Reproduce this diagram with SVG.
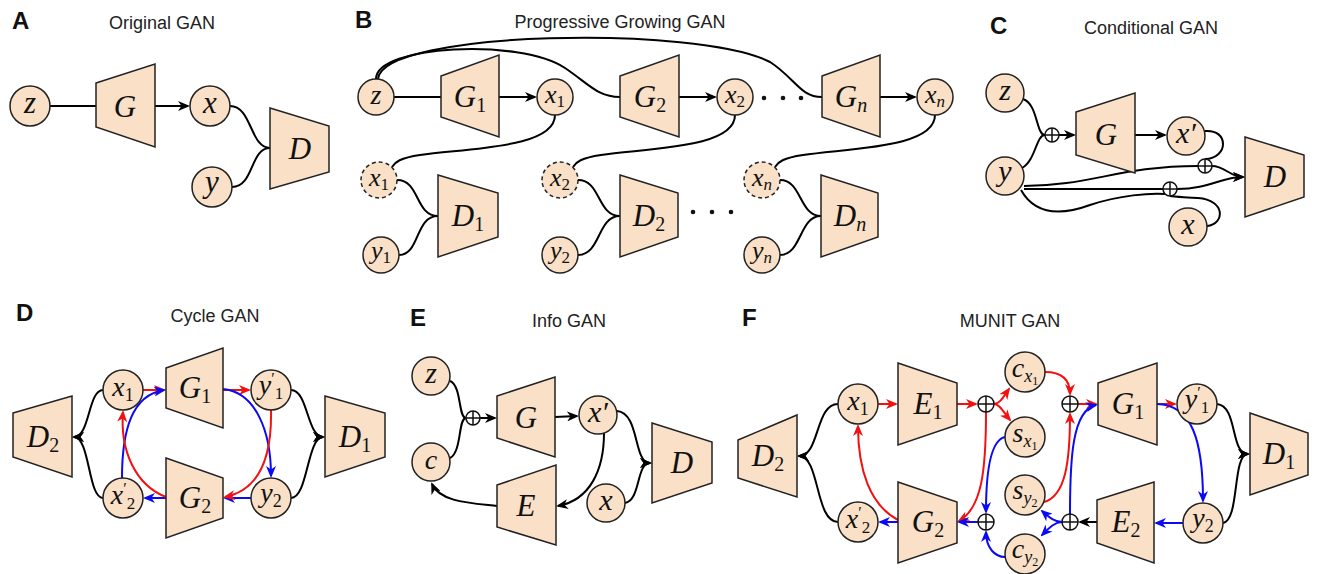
<svg xmlns="http://www.w3.org/2000/svg" width="1318" height="574" viewBox="0 0 1318 574">
<style>
.bg{fill:#fff}
.tr{fill:#f9e0c6;stroke:#222;stroke-width:1.5}
.nd{fill:#f9e0c6;stroke:#222;stroke-width:1.5}
.ds{stroke-dasharray:4 3}
.pl circle{fill:#fff;stroke:#111;stroke-width:1.5}
.pl path{stroke:#111;stroke-width:1.5;fill:none}
.e{fill:none;stroke:#000;stroke-width:2}
.r{stroke:#f21111}
.b{stroke:#0a0af5}
.m{font-family:"Liberation Serif","Times New Roman",serif;font-style:italic;text-anchor:middle;fill:#111}
.s{font-style:normal}
.t{font-family:"Liberation Sans",Arial,sans-serif;font-size:18px;text-anchor:middle;fill:#222}
.p{font-family:"Liberation Sans",Arial,sans-serif;font-weight:bold;font-size:24px;fill:#111}
.dot{fill:#111}
</style>
<defs>
<marker id="ak" viewBox="0 0 12 10" refX="10" refY="5" markerWidth="12" markerHeight="10" markerUnits="userSpaceOnUse" orient="auto"><path d="M0,0 L12,5 L0,10 L3.5,5 z" fill="#000"/></marker>
<marker id="ar" viewBox="0 0 12 10" refX="10" refY="5" markerWidth="12" markerHeight="10" markerUnits="userSpaceOnUse" orient="auto"><path d="M0,0 L12,5 L0,10 L3.5,5 z" fill="#f21111"/></marker>
<marker id="ab" viewBox="0 0 12 10" refX="10" refY="5" markerWidth="12" markerHeight="10" markerUnits="userSpaceOnUse" orient="auto"><path d="M0,0 L12,5 L0,10 L3.5,5 z" fill="#0a0af5"/></marker>
</defs>
<rect class="bg" x="0" y="0" width="1318" height="574"/>

<!-- ================= Panel A ================= -->
<g id="panelA">
<text class="p" x="12" y="29">A</text>
<text class="t" x="162" y="29">Original GAN</text>
<g id="A-connectors">
<path class="e" d="M50,106 L96,106"/>
<path class="e" d="M155,106 L188,106" marker-end="url(#ak)"/>
<path class="e" d="M230,106 C252,106 250,148 270,148"/>
<path class="e" d="M232,187 C254,187 250,148 270,148"/>
</g>
<g id="A-z"><circle class="nd" cx="30" cy="106" r="20"/><text class="m" x="30" y="113" font-size="31">z</text></g>
<g id="A-G"><polygon class="tr" points="96,83 155,64 155,147 96,127"/><text class="m" x="125" y="117" font-size="31">G</text></g>
<g id="A-x"><circle class="nd" cx="210" cy="106" r="20"/><text class="m" x="210" y="113" font-size="31">x</text></g>
<g id="A-D"><polygon class="tr" points="270,108 329,126 329,172 270,189"/><text class="m" x="300" y="159" font-size="31">D</text></g>
<g id="A-y"><circle class="nd" cx="212" cy="187" r="20"/><text class="m" x="212" y="192" font-size="31">y</text></g>
</g>

<!-- ================= Panel B ================= -->
<g id="panelB">
<text class="p" x="355" y="28">B</text>
<text class="t" x="620" y="28">Progressive Growing GAN</text>
<g id="B-connectors">
<path class="e" d="M376,79 C376,45 520,38 565,68 C590,85 598,97 620,97"/>
<path class="e" d="M378,79 C382,30 700,25 770,62 C795,78 800,97 822,97"/>
<path class="e" d="M394,97 L441,97"/>
<path class="e" d="M499,97 L535,97" marker-end="url(#ak)"/>
<path class="e" d="M679,97 L715,97" marker-end="url(#ak)"/>
<path class="e" d="M880,97 L915,97" marker-end="url(#ak)"/>
<path class="e" d="M555,115 C555,148 470,148 420,155 C400,158 395,162 392,167"/>
<path class="e" d="M735,115 C735,148 650,148 601,155 C581,158 576,162 573,167"/>
<path class="e" d="M935,115 C935,148 850,148 803,155 C783,158 778,162 775,167"/>
<path class="e" d="M397,180 C420,180 415,216 438,216"/>
<path class="e" d="M399,255 C420,255 415,216 438,216"/>
<path class="e" d="M578,180 C601,180 597,216 620,216"/>
<path class="e" d="M578,255 C601,255 597,216 620,216"/>
<path class="e" d="M780,180 C802,180 799,216 821,216"/>
<path class="e" d="M780,255 C802,255 799,216 821,216"/>
</g>
<g id="B-z"><circle class="nd" cx="376" cy="97" r="18"/><text class="m" x="376" y="104" font-size="28">z</text></g>
<g id="B-G1"><polygon class="tr" points="441,76 499,55 499,137 441,117"/><text class="m" x="470" y="107" font-size="31">G<tspan class="s" font-size="20" dy="5">1</tspan></text></g>
<g id="B-x1"><circle class="nd" cx="555" cy="97" r="18"/><text class="m" x="555" y="103" font-size="26">x<tspan class="s" font-size="17" dy="4">1</tspan></text></g>
<g id="B-G2"><polygon class="tr" points="620,76 679,55 679,137 620,117"/><text class="m" x="650" y="107" font-size="31">G<tspan class="s" font-size="20" dy="5">2</tspan></text></g>
<g id="B-x2"><circle class="nd" cx="735" cy="97" r="18"/><text class="m" x="735" y="103" font-size="26">x<tspan class="s" font-size="17" dy="4">2</tspan></text></g>
<g id="B-dots1"><circle class="dot" cx="764" cy="98" r="2.3"/><circle class="dot" cx="783" cy="98" r="2.3"/><circle class="dot" cx="801" cy="98" r="2.3"/></g>
<g id="B-Gn"><polygon class="tr" points="822,76 880,55 880,137 822,117"/><text class="m" x="851" y="107" font-size="31">G<tspan font-size="20" dy="5">n</tspan></text></g>
<g id="B-xn"><circle class="nd" cx="935" cy="97" r="18"/><text class="m" x="935" y="103" font-size="26">x<tspan font-size="17" dy="4">n</tspan></text></g>
<g id="B-x1d"><circle class="nd ds" cx="379" cy="180" r="18"/><text class="m" x="379" y="186" font-size="26">x<tspan class="s" font-size="17" dy="4">1</tspan></text></g>
<g id="B-x2d"><circle class="nd ds" cx="560" cy="180" r="18"/><text class="m" x="560" y="186" font-size="26">x<tspan class="s" font-size="17" dy="4">2</tspan></text></g>
<g id="B-xnd"><circle class="nd ds" cx="762" cy="180" r="18"/><text class="m" x="762" y="186" font-size="26">x<tspan font-size="17" dy="4">n</tspan></text></g>
<g id="B-D1"><polygon class="tr" points="438,175 498,193 498,237 438,257"/><text class="m" x="468" y="226" font-size="31">D<tspan class="s" font-size="20" dy="5">1</tspan></text></g>
<g id="B-D2"><polygon class="tr" points="620,175 678,193 678,237 620,257"/><text class="m" x="649" y="226" font-size="31">D<tspan class="s" font-size="20" dy="5">2</tspan></text></g>
<g id="B-Dn"><polygon class="tr" points="821,175 878,193 878,237 821,257"/><text class="m" x="850" y="226" font-size="31">D<tspan font-size="20" dy="5">n</tspan></text></g>
<g id="B-y1"><circle class="nd" cx="381" cy="255" r="18"/><text class="m" x="381" y="259" font-size="26">y<tspan class="s" font-size="17" dy="4">1</tspan></text></g>
<g id="B-y2"><circle class="nd" cx="560" cy="255" r="18"/><text class="m" x="560" y="259" font-size="26">y<tspan class="s" font-size="17" dy="4">2</tspan></text></g>
<g id="B-yn"><circle class="nd" cx="762" cy="255" r="18"/><text class="m" x="762" y="259" font-size="26">y<tspan font-size="17" dy="4">n</tspan></text></g>
<g id="B-dots2"><circle class="dot" cx="693" cy="212" r="2.3"/><circle class="dot" cx="712" cy="212" r="2.3"/><circle class="dot" cx="731" cy="212" r="2.3"/></g>
</g>

<!-- ================= Panel C ================= -->
<g id="panelC">
<text class="p" x="990" y="34">C</text>
<text class="t" x="1151" y="34">Conditional GAN</text>
<g id="C-connectors">
<path class="e" d="M1023,99 C1038,104 1036,135 1045,135"/>
<path class="e" d="M1022,168 C1036,160 1036,135 1045,135"/>
<path class="e" d="M1059,135 L1074,135" marker-end="url(#ak)"/>
<path class="e" d="M1135,135 L1165,135" marker-end="url(#ak)"/>
<path class="e" d="M1205,131 C1229,129 1229,158 1205,159"/>
<path class="e" d="M1212,166 C1225,166 1230,177 1243,177" marker-end="url(#ak)"/>
<path class="e" d="M1024,186 C1090,186 1120,166 1198,166"/>
<path class="e" d="M1024,189 L1163,189"/>
<path class="e" d="M1177,189 C1210,189 1220,177 1243,177" marker-end="url(#ak)"/>
<path class="e" d="M1021,190 C1035,215 1060,216 1090,205 C1120,195 1150,193 1165,194"/>
<path class="e" d="M1207,226 C1225,224 1226,200 1198,198 C1185,197 1175,197 1170,196"/>
</g>
<g id="C-z"><circle class="nd" cx="1005" cy="93" r="19"/><text class="m" x="1005" y="100" font-size="30">z</text></g>
<g id="C-y"><circle class="nd" cx="1005" cy="176" r="19"/><text class="m" x="1005" y="181" font-size="30">y</text></g>
<g id="C-plus1" class="pl"><circle cx="1052" cy="135" r="7"/><path d="M1045,135 H1059 M1052,128 V142"/></g>
<g id="C-G"><polygon class="tr" points="1076,112 1135,93 1135,173 1076,155"/><text class="m" x="1106" y="145" font-size="31">G</text></g>
<g id="C-xp"><circle class="nd" cx="1186" cy="136" r="19"/><text class="m" x="1186" y="143" font-size="30">x′</text></g>
<g id="C-plus2" class="pl"><circle cx="1205" cy="166" r="7"/><path d="M1198,166 H1212 M1205,159 V173"/></g>
<g id="C-plus3" class="pl"><circle cx="1170" cy="189" r="7"/><path d="M1163,189 H1177 M1170,182 V196"/></g>
<g id="C-x"><circle class="nd" cx="1188" cy="227" r="19"/><text class="m" x="1188" y="234" font-size="30">x</text></g>
<g id="C-D"><polygon class="tr" points="1245,137 1304,155 1304,197 1245,217"/><text class="m" x="1275" y="187" font-size="31">D</text></g>
</g>

<!-- ================= Panel D ================= -->
<g id="panelD">
<text class="p" x="16" y="321">D</text>
<text class="t" x="215" y="322">Cycle GAN</text>
<g id="D-connectors">
<path class="e r" d="M143,390 L164,390" marker-end="url(#ar)"/>
<path class="e r" d="M223,390 L249,390" marker-end="url(#ar)"/>
<path class="e b" d="M251,498 L225,498" marker-end="url(#ab)"/>
<path class="e b" d="M166,498 L145,498" marker-end="url(#ab)"/>
<path class="e b" d="M122,478 C122,430 132,395 164,390" marker-end="url(#ab)"/>
<path class="e r" d="M166,497 C135,485 120,450 123,412" marker-end="url(#ar)"/>
<path class="e b" d="M223,389 C255,392 271,430 271,476" marker-end="url(#ab)"/>
<path class="e r" d="M271,410 C272,455 260,490 225,497" marker-end="url(#ar)"/>
<path class="e" d="M103,390 C88,390 90,437 74,437" marker-end="url(#ak)"/>
<path class="e" d="M103,498 C88,498 90,437 74,437" marker-end="url(#ak)"/>
<path class="e" d="M291,390 C308,390 307,437 323,437" marker-end="url(#ak)"/>
<path class="e" d="M291,498 C308,498 307,437 323,437" marker-end="url(#ak)"/>
</g>
<g id="D-D2"><polygon class="tr" points="13,413 72,396 72,477 13,457"/><text class="m" x="43" y="447" font-size="31">D<tspan class="s" font-size="20" dy="5">2</tspan></text></g>
<g id="D-x1"><circle class="nd" cx="123" cy="390" r="20"/><text class="m" x="123" y="396" font-size="28">x<tspan class="s" font-size="18" dy="5">1</tspan></text></g>
<g id="D-G1"><polygon class="tr" points="166,368 223,348 223,428 166,408"/><text class="m" x="195" y="398" font-size="31">G<tspan class="s" font-size="20" dy="5">1</tspan></text></g>
<g id="D-y1p"><circle class="nd" cx="271" cy="390" r="20"/><text class="m" x="271" y="394" font-size="28">y<tspan class="s" font-size="16" dy="-10">′</tspan><tspan class="s" font-size="17" dy="15">1</tspan></text></g>
<g id="D-D1"><polygon class="tr" points="325,396 385,413 385,457 325,477"/><text class="m" x="355" y="447" font-size="31">D<tspan class="s" font-size="20" dy="5">1</tspan></text></g>
<g id="D-x2p"><circle class="nd" cx="123" cy="498" r="20"/><text class="m" x="123" y="504" font-size="28">x<tspan class="s" font-size="16" dy="-10">′</tspan><tspan class="s" font-size="17" dy="15">2</tspan></text></g>
<g id="D-G2"><polygon class="tr" points="166,458 223,478 223,518 166,538"/><text class="m" x="195" y="508" font-size="31">G<tspan class="s" font-size="20" dy="5">2</tspan></text></g>
<g id="D-y2"><circle class="nd" cx="271" cy="498" r="20"/><text class="m" x="271" y="502" font-size="28">y<tspan class="s" font-size="18" dy="5">2</tspan></text></g>
</g>

<!-- ================= Panel E ================= -->
<g id="panelE">
<text class="p" x="410" y="326">E</text>
<text class="t" x="569" y="327">Info GAN</text>
<g id="E-connectors">
<path class="e" d="M450,381 C462,386 458,418 466,418"/>
<path class="e" d="M450,458 C462,452 458,418 466,418"/>
<path class="e" d="M480,418 L495,418" marker-end="url(#ak)"/>
<path class="e" d="M555,417 L577,416" marker-end="url(#ak)"/>
<path class="e" d="M617,411 C640,413 633,463 650,463" marker-end="url(#ak)"/>
<path class="e" d="M625,503 C641,500 636,463 650,463" marker-end="url(#ak)"/>
<path class="e" d="M604,433 C604,470 590,500 558,506" marker-end="url(#ak)"/>
<path class="e" d="M497,506 C470,503 440,502 432,484" marker-end="url(#ak)"/>
</g>
<g id="E-z"><circle class="nd" cx="431" cy="376" r="19"/><text class="m" x="431" y="383" font-size="30">z</text></g>
<g id="E-c"><circle class="nd" cx="431" cy="462" r="19"/><text class="m" x="431" y="469" font-size="28">c</text></g>
<g id="E-plus" class="pl"><circle cx="473" cy="418" r="7"/><path d="M466,418 H480 M473,411 V425"/></g>
<g id="E-G"><polygon class="tr" points="497,396 555,377 555,457 497,438"/><text class="m" x="526" y="428" font-size="31">G</text></g>
<g id="E-xp"><circle class="nd" cx="598" cy="415" r="19"/><text class="m" x="598" y="422" font-size="30">x′</text></g>
<g id="E-D"><polygon class="tr" points="652,423 712,442 712,483 652,503"/><text class="m" x="682" y="473" font-size="31">D</text></g>
<g id="E-E"><polygon class="tr" points="497,485 556,465 556,545 497,527"/><text class="m" x="526" y="516" font-size="31">E</text></g>
<g id="E-x"><circle class="nd" cx="606" cy="503" r="19"/><text class="m" x="606" y="510" font-size="30">x</text></g>
</g>

<!-- ================= Panel F ================= -->
<g id="panelF">
<text class="p" x="742" y="326">F</text>
<text class="t" x="1010" y="327">MUNIT GAN</text>
<g id="F-connectors">
<path class="e r" d="M878,404 L896,404" marker-end="url(#ar)"/>
<path class="e r" d="M957,404 L976,404" marker-end="url(#ar)"/>
<path class="e r" d="M994,404 C1000,404 1004,396 1009,389" marker-end="url(#ar)"/>
<path class="e r" d="M994,404 C1000,404 1004,413 1010,420" marker-end="url(#ar)"/>
<path class="e r" d="M1045,372 C1062,372 1070,380 1070,394" marker-end="url(#ar)"/>
<path class="e r" d="M1044,502 C1066,496 1070,460 1070,414" marker-end="url(#ar)"/>
<path class="e r" d="M1078,404 L1096,404" marker-end="url(#ar)"/>
<path class="e r" d="M1157,404 L1175,404" marker-end="url(#ar)"/>
<path class="e r" d="M986,412 C986,470 982,508 959,521" marker-end="url(#ar)"/>
<path class="e r" d="M898,520 C870,505 858,470 858,426" marker-end="url(#ar)"/>
<path class="e b" d="M1157,404 C1192,405 1203,440 1203,501" marker-end="url(#ab)"/>
<path class="e b" d="M1183,523 L1156,523" marker-end="url(#ab)"/>
<path class="e b" d="M1062,522 C1055,522 1050,518 1042,511" marker-end="url(#ab)"/>
<path class="e b" d="M1062,522 C1055,522 1050,527 1042,535" marker-end="url(#ab)"/>
<path class="e b" d="M1070,514 C1070,460 1072,410 1096,405" marker-end="url(#ab)"/>
<path class="e b" d="M1005,557 C995,557 986,548 986,532" marker-end="url(#ab)"/>
<path class="e b" d="M1005,437 C991,440 986,470 986,512" marker-end="url(#ab)"/>
<path class="e b" d="M978,522 L959,522" marker-end="url(#ab)"/>
<path class="e b" d="M898,522 L880,522" marker-end="url(#ab)"/>
<path class="e" d="M1097,522 L1080,522" marker-end="url(#ak)"/>
<path class="e" d="M838,404 C815,404 820,456 799,456" marker-end="url(#ak)"/>
<path class="e" d="M838,522 C815,522 820,456 799,456" marker-end="url(#ak)"/>
<path class="e" d="M1217,404 C1238,406 1230,454 1248,454" marker-end="url(#ak)"/>
<path class="e" d="M1223,523 C1240,520 1232,454 1248,454" marker-end="url(#ak)"/>
</g>
<g id="F-D2"><polygon class="tr" points="738,440 797,415 797,497 738,478"/><text class="m" x="768" y="466" font-size="31">D<tspan class="s" font-size="20" dy="5">2</tspan></text></g>
<g id="F-x1"><circle class="nd" cx="858" cy="404" r="20"/><text class="m" x="858" y="410" font-size="28">x<tspan class="s" font-size="18" dy="5">1</tspan></text></g>
<g id="F-E1"><polygon class="tr" points="898,363 957,383 957,425 898,445"/><text class="m" x="928" y="414" font-size="31">E<tspan class="s" font-size="20" dy="5">1</tspan></text></g>
<g id="F-plus1" class="pl"><circle cx="986" cy="404" r="8"/><path d="M978,404 H994 M986,396 V412"/></g>
<g id="F-cx1"><circle class="nd" cx="1025" cy="372" r="20"/><text class="m" x="1025" y="377" font-size="28">c<tspan font-size="18" dy="5">x</tspan><tspan class="s" font-size="12" dy="3">1</tspan></text></g>
<g id="F-sx1"><circle class="nd" cx="1025" cy="437" r="20"/><text class="m" x="1025" y="442" font-size="28">s<tspan font-size="18" dy="5">x</tspan><tspan class="s" font-size="12" dy="3">1</tspan></text></g>
<g id="F-plus2" class="pl"><circle cx="1070" cy="404" r="8"/><path d="M1062,404 H1078 M1070,396 V412"/></g>
<g id="F-G1"><polygon class="tr" points="1098,383 1157,363 1157,445 1098,425"/><text class="m" x="1128" y="414" font-size="31">G<tspan class="s" font-size="20" dy="5">1</tspan></text></g>
<g id="F-y1p"><circle class="nd" cx="1197" cy="404" r="20"/><text class="m" x="1197" y="408" font-size="28">y<tspan class="s" font-size="16" dy="-10">′</tspan><tspan class="s" font-size="17" dy="15">1</tspan></text></g>
<g id="F-D1"><polygon class="tr" points="1250,413 1308,433 1308,475 1250,495"/><text class="m" x="1279" y="464" font-size="31">D<tspan class="s" font-size="20" dy="5">1</tspan></text></g>
<g id="F-x2p"><circle class="nd" cx="858" cy="522" r="20"/><text class="m" x="858" y="528" font-size="28">x<tspan class="s" font-size="16" dy="-10">′</tspan><tspan class="s" font-size="17" dy="15">2</tspan></text></g>
<g id="F-G2"><polygon class="tr" points="898,482 957,502 957,543 898,563"/><text class="m" x="928" y="532" font-size="31">G<tspan class="s" font-size="20" dy="5">2</tspan></text></g>
<g id="F-plus3" class="pl"><circle cx="986" cy="522" r="8"/><path d="M978,522 H994 M986,514 V530"/></g>
<g id="F-sy2"><circle class="nd" cx="1025" cy="495" r="20"/><text class="m" x="1025" y="499" font-size="28">s<tspan font-size="18" dy="5">y</tspan><tspan class="s" font-size="12" dy="3">2</tspan></text></g>
<g id="F-cy2"><circle class="nd" cx="1025" cy="554" r="20"/><text class="m" x="1025" y="558" font-size="28">c<tspan font-size="18" dy="5">y</tspan><tspan class="s" font-size="12" dy="3">2</tspan></text></g>
<g id="F-plus4" class="pl"><circle cx="1070" cy="522" r="8"/><path d="M1062,522 H1078 M1070,514 V530"/></g>
<g id="F-E2"><polygon class="tr" points="1097,500 1154,482 1154,563 1097,543"/><text class="m" x="1126" y="532" font-size="31">E<tspan class="s" font-size="20" dy="5">2</tspan></text></g>
<g id="F-y2"><circle class="nd" cx="1203" cy="523" r="20"/><text class="m" x="1203" y="527" font-size="28">y<tspan class="s" font-size="18" dy="5">2</tspan></text></g>
</g>
</svg>
